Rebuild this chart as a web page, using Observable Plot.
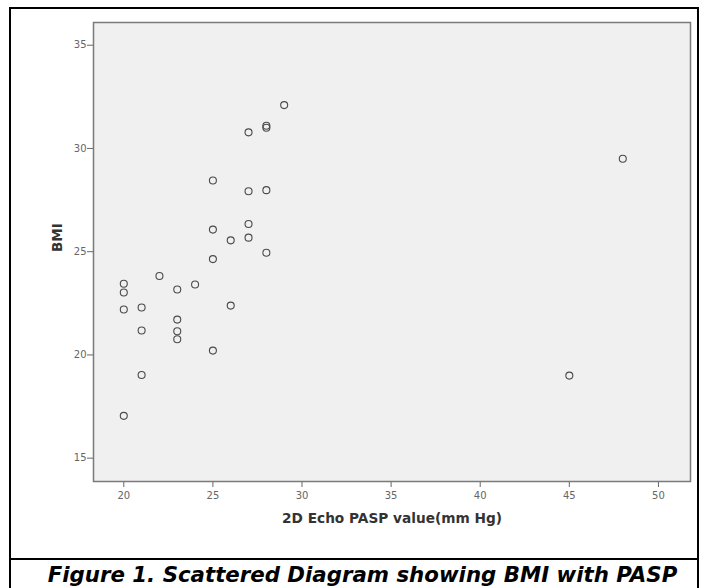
<!DOCTYPE html>
<html>
<head>
<meta charset="utf-8">
<script src="https://cdn.jsdelivr.net/npm/d3@7"></script>
<script src="https://cdn.jsdelivr.net/npm/@observablehq/plot@0.6"></script>
<style>
  html, body { margin: 0; padding: 0; background: #fff; }
  #wrap { position: relative; width: 705px; height: 588px; overflow: hidden; background: #fff; }
  #box { position: absolute; left: 9px; top: 7px; width: 686px; height: 620px; border: 2px solid #000; border-bottom: none; }
  #sep { position: absolute; left: 9px; top: 558px; width: 690px; height: 2px; background: #000; }
  #chart { position: absolute; left: 0; top: 0; }
  #caption { position: absolute; left: 10px; top: 562px; width: 705px; text-align: center;
    font-family: "DejaVu Sans", sans-serif; font-weight: bold; font-style: italic; font-size: 21.3px; color: #000; white-space: nowrap; }
</style>
</head>
<body>
<div id="wrap">
  <div id="box"></div>
  <div id="sep"></div>
  <div id="chart"></div>
  <div id="caption">Figure 1. Scattered Diagram showing BMI with PASP</div>
</div>
<script>
const pasp = [20, 20, 20, 20, 21, 21, 21, 22, 23, 23, 23, 23, 24, 25, 25, 25, 25, 26, 26, 27, 27, 27, 27, 28, 28, 28, 28, 29, 45, 48];
const bmi  = [23.45, 23.02, 22.2, 17.05, 22.3, 21.18, 19.03, 23.82, 23.17, 21.71, 21.15, 20.76, 23.41, 28.45, 26.07, 24.64, 20.21, 25.55, 22.39, 30.78, 27.93, 26.34, 25.68, 31.0, 31.1, 27.98, 24.95, 32.1, 19.0, 29.5];
const xTicks = [20, 25, 30, 35, 40, 45, 50];
const yTicks = [15, 20, 25, 30, 35];
const xLabel = "2D Echo PASP value(mm Hg)";
const yLabel = "BMI";

const data = pasp.map((p, i) => ({pasp: p, bmi: bmi[i]}));

const chart = Plot.plot({
  width: 705,
  height: 559,
  marginLeft: 93,
  marginRight: 15,
  marginTop: 22,
  marginBottom: 78,
  style: {fontFamily: "'DejaVu Sans', sans-serif", fontSize: "10px", color: "#555", background: "transparent"},
  x: {domain: [18.3, 51.8]},
  y: {domain: [13.87, 36.1]},
  marks: [
    Plot.frame({fill: "#f0f0f0", stroke: null}),
    Plot.axisX({ticks: xTicks, tickSize: 6, tickPadding: 4, stroke: "#666", label: null, fill: "#666"}),
    Plot.axisY({ticks: yTicks, tickSize: 6, tickPadding: 1, stroke: "#666", label: null, fill: "#666"}),
    Plot.frame({stroke: "#7a7a7a", strokeWidth: 1.5}),
    Plot.dot(data, {x: "pasp", y: "bmi", r: 3.5, stroke: "#4a4a4a", strokeWidth: 1.1, fill: "none"}),
    Plot.text([xLabel], {frameAnchor: "bottom", dy: 41, text: d => d, fontWeight: "bold", fontSize: 13.7, fill: "#333"}),
    Plot.text([yLabel], {frameAnchor: "left", dx: -36, rotate: -90, text: d => d, fontWeight: "bold", fontSize: 13.5, fill: "#333"})
  ]
});
document.getElementById("chart").appendChild(chart);
</script>
</body>
</html>
